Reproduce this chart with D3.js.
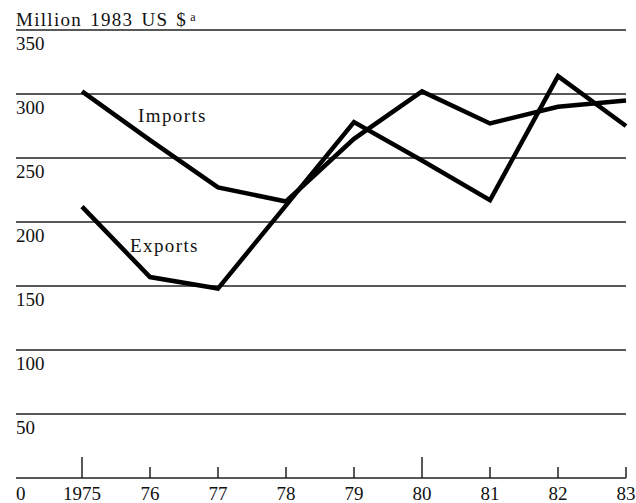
<!DOCTYPE html>
<html>
<head>
<meta charset="utf-8">
<script src="https://cdn.jsdelivr.net/npm/d3@7"></script>
<style>
  body { margin: 0; background: #fff; }
  text { font-family: "Liberation Serif", "Times New Roman", serif; fill: #111; }
</style>
</head>
<body>
<div id="chart"></div>
<script>
// Data
const years = [1975, 1976, 1977, 1978, 1979, 1980, 1981, 1982, 1983];
const yearLabels = ["1975", "76", "77", "78", "79", "80", "81", "82", "83"];
const imports = [302, 264, 227, 216, 265, 302, 277, 290, 295];
const exports = [212, 157, 148, 213, 278, 248, 217, 314, 275];
const yTicks = [50, 100, 150, 200, 250, 300, 350];
const tallTicks = [1975, 1980];

const width = 636, height = 503;

const svg = d3.select("#chart").append("svg")
    .attr("width", width)
    .attr("height", height);

// Scales
const x = d3.scaleLinear().domain([1975, 1983]).range([82, 626]);
const y = d3.scaleLinear().domain([0, 350]).range([478, 30]);
const left = 16, right = 626;

// Horizontal gridlines
svg.append("g").selectAll("line").data(yTicks).join("line")
    .attr("x1", left).attr("x2", right)
    .attr("y1", d => y(d)).attr("y2", d => y(d))
    .attr("stroke", "#222").attr("stroke-width", 1.3);

// Y labels sit just under their gridline
svg.append("g").selectAll("text").data(yTicks).join("text")
    .attr("x", left)
    .attr("y", d => y(d) + 20)
    .attr("font-size", 19)
    .text(d => d);

// Baseline with ticks pointing up
svg.append("line")
    .attr("x1", left).attr("x2", right)
    .attr("y1", y(0)).attr("y2", y(0))
    .attr("stroke", "#222").attr("stroke-width", 1.5);

svg.append("g").selectAll("line").data(years).join("line")
    .attr("x1", d => x(d)).attr("x2", d => x(d))
    .attr("y1", y(0))
    .attr("y2", d => y(0) - (tallTicks.includes(d) ? 21 : 11))
    .attr("stroke", "#222").attr("stroke-width", 1.5);

// X labels
svg.append("g").selectAll("text").data(years).join("text")
    .attr("x", d => x(d))
    .attr("y", 500)
    .attr("text-anchor", "middle")
    .attr("font-size", 19)
    .text((d, i) => yearLabels[i]);

svg.append("text")
    .attr("x", left).attr("y", 500)
    .attr("font-size", 19)
    .text("0");

// Title (the old typeface is wider, so spread the letters a bit)
const title = svg.append("text")
    .attr("x", left).attr("y", 26)
    .attr("font-size", 19)
    .attr("letter-spacing", 1.3)
    .attr("word-spacing", 2)
    .text("Million 1983 US $");
title.append("tspan")
    .attr("font-size", 12)
    .attr("dx", 3)
    .attr("dy", -5)
    .text("a");

// Lines
const line = d3.line()
    .x((d, i) => x(years[i]))
    .y(d => y(d));

svg.append("path")
    .datum(imports)
    .attr("d", line)
    .attr("fill", "none")
    .attr("stroke", "#000")
    .attr("stroke-width", 4.5)
    .attr("stroke-linejoin", "miter");

svg.append("path")
    .datum(exports)
    .attr("d", line)
    .attr("fill", "none")
    .attr("stroke", "#000")
    .attr("stroke-width", 4.5)
    .attr("stroke-linejoin", "miter");

// Series labels
svg.append("text")
    .attr("x", 138).attr("y", 122)
    .attr("font-size", 19)
    .attr("letter-spacing", 1.4)
    .text("Imports");

svg.append("text")
    .attr("x", 130).attr("y", 252)
    .attr("font-size", 19)
    .attr("letter-spacing", 1.4)
    .text("Exports");
</script>
</body>
</html>
